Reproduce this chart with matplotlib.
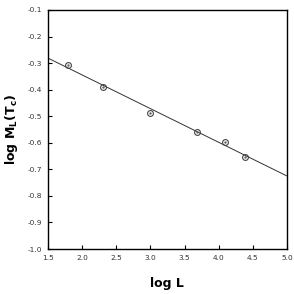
import matplotlib
matplotlib.use("Agg")
import matplotlib.pyplot as plt
import numpy as np

# data
log_L = [1.79, 2.31, 3.0, 3.68, 4.1, 4.38]
log_M = [-0.307, -0.39, -0.488, -0.56, -0.597, -0.653]

# fitted line
fit_x = [1.5, 5.0]
fit_y = [-0.281, -0.725]

xticks = [1.5, 2.0, 2.5, 3.0, 3.5, 4.0, 4.5, 5.0]
yticks = [-1.0, -0.9, -0.8, -0.7, -0.6, -0.5, -0.4, -0.3, -0.2, -0.1]

fig = plt.figure(figsize=(2.94, 2.94), dpi=100)
ax = fig.add_axes([0.163, 0.153, 0.813, 0.813])

ax.plot(fit_x, fit_y, color='#333333', lw=0.7)
ax.plot(log_L, log_M, 'o', mfc='none', mec='#444444', ms=4.2, mew=0.8)
# small centre dot in each circle
ax.plot(log_L, log_M, '.', color='#666666', ms=1.5)

ax.set_xlim(1.5, 5.0)
ax.set_ylim(-1.0, -0.1)
ax.set_xticks(xticks)
ax.set_yticks(yticks)
ax.set_xticklabels(['%.1f' % t for t in xticks])
ax.set_yticklabels(['%.1f' % t for t in yticks])
ax.tick_params(direction='in', length=3, width=0.8, labelsize=5.3, pad=4,
               labelcolor='#333333')
for s in ax.spines.values():
    s.set_linewidth(1.0)

ax.set_xlabel('log L', fontsize=9, fontweight='bold', labelpad=12)
ax.set_ylabel(r'log M$_{\mathbf{L}}$(T$_{\mathbf{c}}$)', fontsize=9,
              fontweight='bold', labelpad=6)

fig.savefig('out.png', dpi=100)
